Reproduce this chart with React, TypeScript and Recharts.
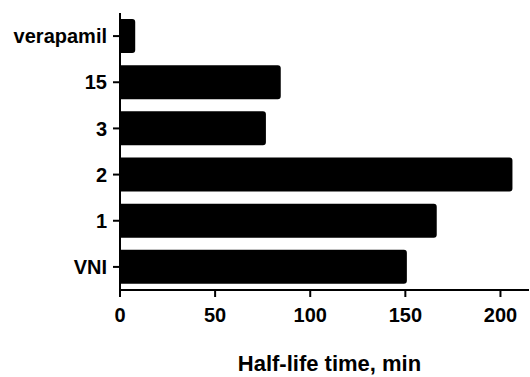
import React from 'react';
import { BarChart, Bar, XAxis, YAxis } from 'recharts';

const categories = ['verapamil', '15', '3', '2', '1', 'VNI'];
const halfLife = [8, 84.5, 76.7, 206.3, 166.5, 150.8];
const xTicks = [0, 50, 100, 150, 200];

const data = categories.map((c, i) => ({ name: c, value: halfLife[i] }));

const font = { fontFamily: '"Liberation Sans", Arial, sans-serif', fontWeight: 700, fontSize: 20, fill: '#000' };

export default function App() {
  return (
    <div style={{ position: 'absolute', left: 0, top: 0, background: '#fff' }}>
      <BarChart
        width={530}
        height={377}
        data={data}
        layout="vertical"
        margin={{ top: 13, right: 1, left: 0, bottom: 0 }}
        barSize={34}
      >
        <XAxis
          type="number"
          domain={[0, 215]}
          ticks={xTicks}
          allowDataOverflow
          height={87}
          tickSize={7}
          tickMargin={11}
          axisLine={{ stroke: '#000', strokeWidth: 2 }}
          tickLine={{ stroke: '#000', strokeWidth: 2 }}
          tick={font}
          label={{
            value: 'Half-life time, min',
            position: 'insideBottom',
            offset: 6,
            dx: 5,
            style: { fontFamily: '"Liberation Sans", Arial, sans-serif', fontWeight: 700, fontSize: 22, fill: '#000' },
          }}
        />
        <YAxis
          type="category"
          dataKey="name"
          width={120}
          tickSize={7}
          tickMargin={6}
          axisLine={{ stroke: '#000', strokeWidth: 2 }}
          tickLine={{ stroke: '#000', strokeWidth: 2 }}
          tick={font}
          interval={0}
        />
        <Bar dataKey="value" fill="#000" radius={[0, 3, 3, 0]} isAnimationActive={false} />
      </BarChart>
    </div>
  );
}
